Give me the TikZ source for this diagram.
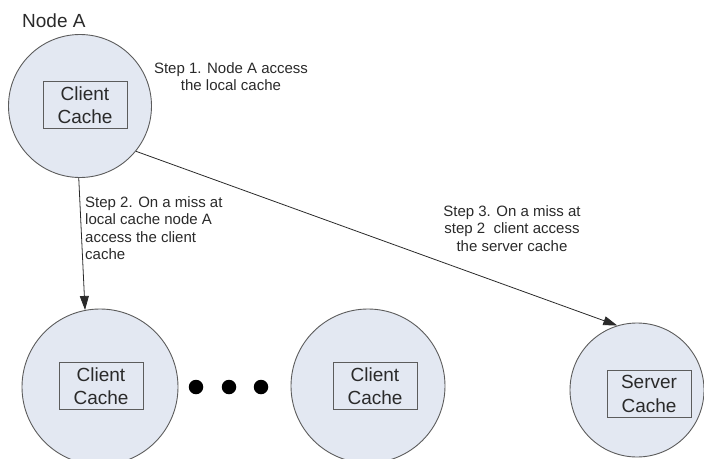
\documentclass[tikz,border=0pt]{standalone}
\usepackage{fontspec}
\setmainfont{Liberation Sans}
\usetikzlibrary{arrows.meta}
\definecolor{cachefill}{HTML}{E3E8F2}
\definecolor{rimgray}{HTML}{5C5C5C}
\definecolor{inkgray}{HTML}{2A2A2A}

\begin{document}
\begin{tikzpicture}[x=1pt,y=-1pt,
  site/.style={circle, draw=rimgray, fill=cachefill, line width=0.9pt, inner sep=0pt},
  cachebox/.style={draw=rimgray, fill=cachefill, line width=0.9pt,
    minimum width=84pt, minimum height=47pt, inner sep=0pt, align=center,
    font=\fontsize{19}{23.5}\selectfont, text=inkgray},
  note/.style={font=\fontsize{15}{17.5}\selectfont, inner sep=0pt, text=inkgray},
  link/.style={draw=inkgray, line width=0.8pt, -{Triangle[length=14pt,width=9pt]}},
  bigdot/.style={circle, fill=black, minimum size=14.5pt, inner sep=0pt}]
\useasboundingbox (0,0) rectangle (704,458);
\clip (0,0) rectangle (704,458);

% caching sites
\node[site, minimum size=143pt] (nodeA) at (80,106) {};
\node[site, minimum size=156pt] (left)  at (100,387) {};
\node[site, minimum size=154pt] (mid)   at (368,386) {};
\node[site, minimum size=134pt] (srv)   at (637,390) {};

% cache boxes inside the sites
\node[cachebox] (boxA)   at (85,105)  {Client\\Cache};
\node[cachebox] (boxL)   at (101,386) {Client\\Cache};
\node[cachebox] (boxM)   at (375,386) {Client\\Cache};
\node[cachebox] (boxS)   at (649,394) {Server\\Cache};

% ellipsis between client sites
\node[bigdot] (d1) at (196,387) {};
\node[bigdot] (d2) at (229,387) {};
\node[bigdot] (d3) at (261,387) {};

% title
\node[note, font=\fontsize{19}{22}\selectfont, anchor=base west] (title) at (22,27) {Node A};

% connectors
\draw[link] (nodeA.-91) -- (left.101);
\draw[link] (nodeA.-39) -- (srv.107);

% step labels
\node[note, align=center, anchor=north] (s1) at (231,62)
  {Step 1. Node A access\\the local cache};
\node[note, align=left, anchor=north west] (s2) at (85,196)
  {Step 2. On a miss at\\local cache node A\\access the client\\cache};
\node[note, align=center, anchor=north] (s3) at (512,205)
  {Step 3. On a miss at\\step 2\ \ client access\\the server cache};
\end{tikzpicture}
\end{document}
